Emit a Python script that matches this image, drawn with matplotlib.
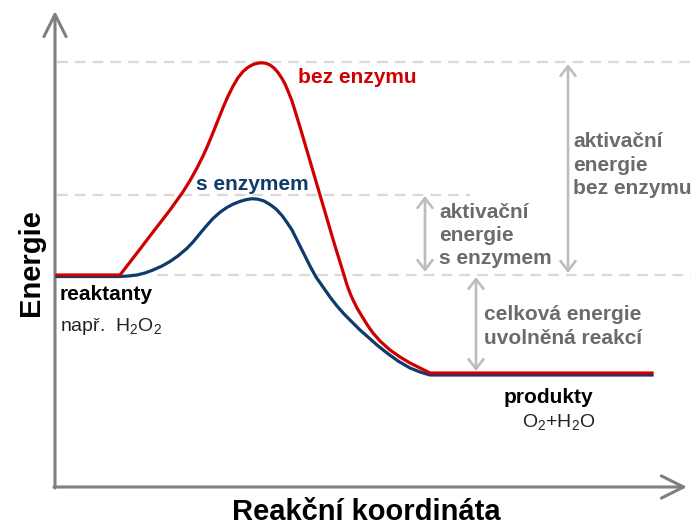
import matplotlib
matplotlib.use('Agg')
import matplotlib.pyplot as plt

plt.rcParams['font.family'] = ['Liberation Sans', 'DejaVu Sans']
plt.rcParams['mathtext.fontset'] = 'custom'
plt.rcParams['mathtext.rm'] = 'Liberation Sans'

H = 525  # picture height, energy = H - row

# reaction path without enzyme (x, row)
red_x = [57, 120, 137, 153, 170, 183, 190, 197, 203, 207, 212, 217, 223, 228, 233, 238,
         243, 248, 253, 258, 262, 266, 270, 274, 278, 282, 285, 288, 292, 296, 300, 305,
         310, 315, 320, 325, 330, 335, 340, 344, 347, 350, 353, 357, 363, 368, 373, 380,
         390, 400, 410, 420, 430, 652]
red_y = [275, 275, 253, 232, 210, 191.8, 180.6, 168, 156, 147.2, 135.2, 122.7, 107.7, 96.2,
         86.2, 77.7, 71.5, 67.3, 64.5, 63.1, 62.8, 63.3, 65, 68, 72.5, 78.5, 84, 91, 101, 114,
         127, 144, 161, 178, 195, 212, 229, 246, 262, 275, 285, 293, 300, 308, 318, 326, 333,
         341, 350, 357, 363, 368, 373, 373]

# reaction path with enzyme
blue_x = [57, 120, 128, 137, 145, 153, 162, 170, 178, 187, 193, 200, 207, 213, 220, 227,
          233, 240, 246, 252, 258, 264, 270, 276, 282, 287, 292, 296, 300, 305, 310, 316,
          323, 330, 337, 345, 352, 360, 368, 377, 387, 398, 410, 420, 430, 652]
blue_y = [276.5, 276.5, 276, 275, 273, 270, 266, 261.5, 255.9, 248.3, 242, 233.5, 225.2,
          218.5, 212.3, 207.4, 204.2, 201.4, 199.7, 198.7, 199.2, 201, 204.5, 209, 215.5,
          222.5, 230, 238, 246, 256, 266, 277, 287, 297, 306, 315, 322, 330, 337, 345, 353,
          361, 368, 372, 375, 375]

# dashed reference levels: (row, x start, x end)
level_rows = [62, 195, 275]
level_x0 = [57, 57, 157]
level_x1 = [691, 470, 691]

# double arrows: x, top row, bottom row
arrow_x = [568, 425, 476]
arrow_top = [64, 196, 277]
arrow_bot = [273, 272, 371]

gray_blocks = [
    (573, [147, 171, 194], ['aktivační', 'energie', 'bez enzymu']),
    (439, [218, 241, 264], ['aktivační', 'energie', 's enzymem']),
    (484, [320, 344], ['celková energie', 'uvolněná reakcí']),
]

RED = '#d00000'
BLUE = '#0e3a6c'
GRAY_TXT = '#6b6b6b'
GRAY_ARR = '#bdbdbd'
DASH = '#d9d9d9'
AXIS = '#7f7f7f'

fig = plt.figure(figsize=(6.91, 5.25), dpi=100)
ax = fig.add_axes([0, 0, 1, 1])
ax.set_xlim(0, 691)
ax.set_ylim(0, H)
ax.axis('off')

def E(rows):
    return [H - r for r in rows]

for r, a, b in zip(level_rows, level_x0, level_x1):
    ax.plot([a, b], [H - r, H - r], color=DASH, lw=1.6, dashes=(4.8, 3.2), zorder=1)

# axes with open arrow heads
axis_arrow = dict(arrowstyle='->, head_length=16, head_width=8', color=AXIS, lw=2.2,
                  shrinkA=0, shrinkB=0, mutation_scale=1)
ax.annotate('', xy=(55, H - 11), xytext=(55, H - 488), arrowprops=axis_arrow, zorder=3)
ax.annotate('', xy=(687, H - 487), xytext=(54, H - 487), arrowprops=axis_arrow, zorder=3)

for x, t, b in zip(arrow_x, arrow_top, arrow_bot):
    ax.annotate('', xy=(x, H - t), xytext=(x, H - b),
                arrowprops=dict(arrowstyle='<->, head_length=7, head_width=5.4',
                                color=GRAY_ARR, lw=1.9, shrinkA=0, shrinkB=0,
                                mutation_scale=1),
                zorder=2)

ax.plot(blue_x, E(blue_y), color=BLUE, lw=2.3, solid_joinstyle='round', zorder=4)
ax.plot(red_x, E(red_y), color=RED, lw=2.3, solid_joinstyle='round', zorder=5)

ax.text(298, H - 83, 'bez enzymu', color=RED, fontsize=15, fontweight='bold')
ax.text(196, H - 190, 's enzymem', color=BLUE, fontsize=15, fontweight='bold')

for x, rows, lines in gray_blocks:
    for r, s in zip(rows, lines):
        ax.text(x, H - r, s, color=GRAY_TXT, fontsize=15, fontweight='bold')

ax.text(60, H - 300, 'reaktanty', color='black', fontsize=15, fontweight='bold')
ax.text(60, H - 331, 'např.  H$_2$O$_2$', color='#222222', fontsize=14)
ax.text(504, H - 403, 'produkty', color='black', fontsize=15, fontweight='bold')
ax.text(522, H - 428, 'O$_2$+H$_2$O', color='#222222', fontsize=14)

ax.text(39, H - 263, 'Energie', fontsize=21, fontweight='bold', rotation=90,
        rotation_mode='anchor', ha='center', va='baseline')
ax.text(366, H - 520, 'Reakční koordináta', fontsize=21, fontweight='bold',
        ha='center', va='baseline')

plt.savefig('out.png', dpi=100)
